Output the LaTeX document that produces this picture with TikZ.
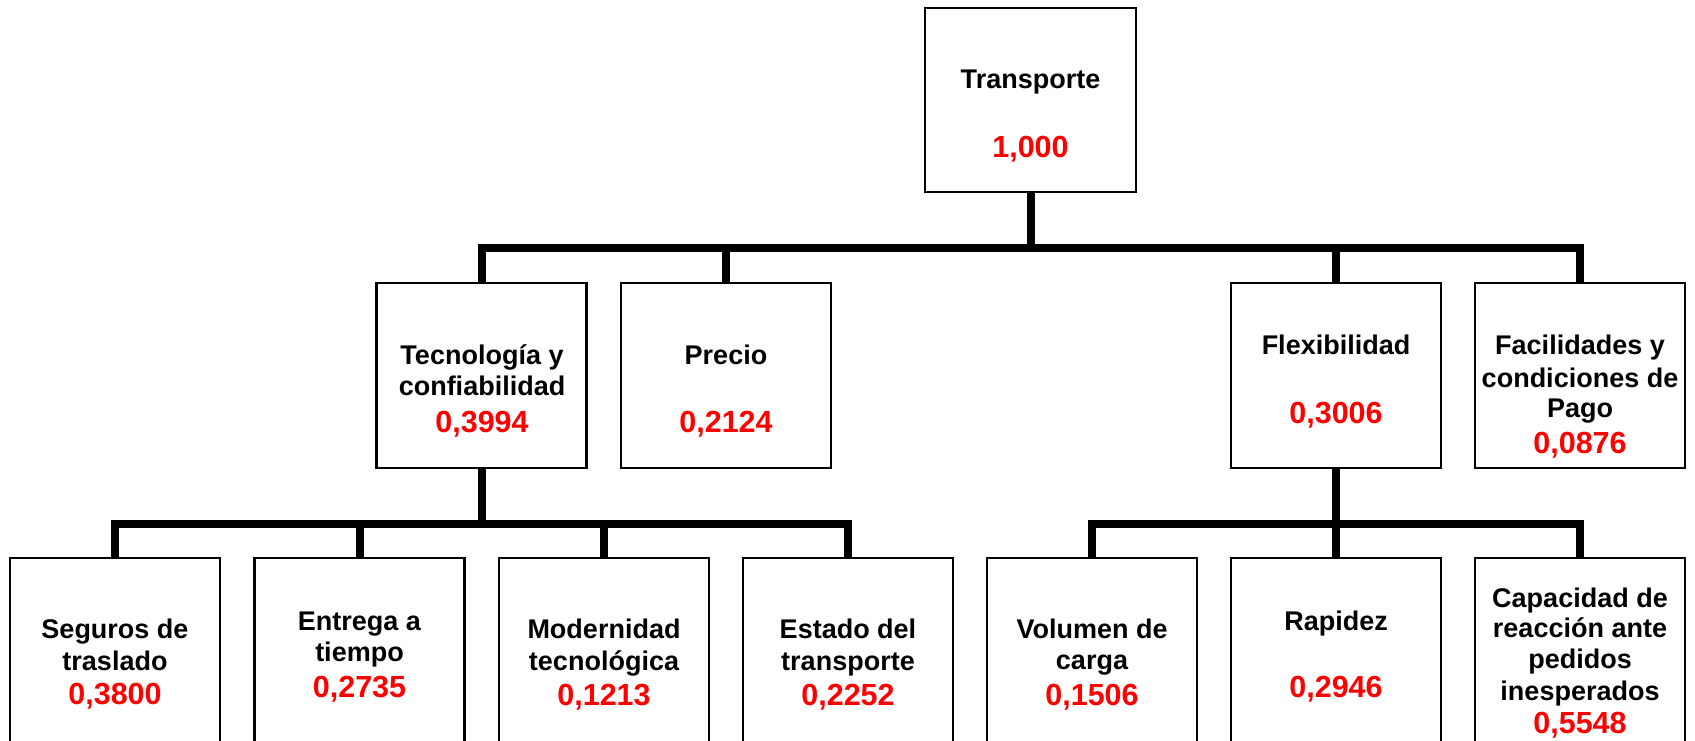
\documentclass[tikz,border=0pt]{standalone}
\usepackage{fontspec}
\setmainfont{Liberation Sans}
\begin{document}
\begin{tikzpicture}[x=1pt,y=-1pt,
  box/.style={draw, line width=2.2pt, fill=white, minimum width=210pt, minimum height=185pt, inner sep=0pt},
  boxlow/.style={box, minimum height=192pt},
  conn/.style={line width=8pt, line join=miter},
  lab/.style={anchor=base, inner sep=0pt, font=\bfseries\fontsize{27}{31}\selectfont},
  val/.style={anchor=base, inner sep=0pt, text=red, font=\bfseries\fontsize{30.5}{34}\selectfont}]
\useasboundingbox (0,0) rectangle (1695,740);
\clip (0,0) rectangle (1695,740);
\coordinate (barT) at (1031,248);
\coordinate (barL) at (482,524);
% connectors
\path
  (1030.5,100) coordinate (ctop)
  (481.5,375.5) coordinate (ctec)
  (726,375.5) coordinate (cpre)
  (1336,375.5) coordinate (cfle)
  (1580,375.5) coordinate (cfac);
% boxes
\node[box, minimum width=211pt, minimum height=184pt] (top) at (ctop) {};
\node[box] (tec) at (ctec) {};
\node[box] (pre) at (cpre) {};
\node[box] (fle) at (cfle) {};
\node[box] (fac) at (cfac) {};
\node[boxlow] (seg) at (115,654) {};
\node[boxlow] (ent) at (359.5,654) {};
\node[boxlow] (mod) at (604,654) {};
\node[boxlow] (est) at (848,654) {};
\node[boxlow] (vol) at (1092,654) {};
\node[boxlow] (rap) at (1336,654) {};
\node[boxlow] (cap) at (1580,654) {};
% connectors
\draw[conn] (top.south) -- (top.south |- barT);
\draw[conn] (tec.north) |- (fac.north |- barT) -- (fac.north);
\draw[conn] (pre.north) -- (pre.north |- barT);
\draw[conn] (fle.north) -- (fle.north |- barT);
\draw[conn] (tec.south) -- (tec.south |- barL);
\draw[conn] (seg.north) |- (est.north |- barL) -- (est.north);
\draw[conn] (ent.north) -- (ent.north |- barL);
\draw[conn] (mod.north) -- (mod.north |- barL);
\draw[conn] (fle.south) -- (fle.south |- barL);
\draw[conn] (vol.north) |- (cap.north |- barL) -- (cap.north);
\draw[conn] (rap.north) -- (rap.north |- barL);
% texts
\node[lab] (t1) at (1030.5,88) {Transporte};
\node[val] (v1) at (1030.5,157) {1,000};
\node[lab] (t2a) at (482,364) {Tecnología y};
\node[lab] (t2b) at (482,395) {confiabilidad};
\node[val] (v2) at (482,432) {0,3994};
\node[lab] (t3) at (726,364) {Precio};
\node[val] (v3) at (726,432) {0,2124};
\node[lab] (t4) at (1336,354) {Flexibilidad};
\node[val] (v4) at (1336,423) {0,3006};
\node[lab] (t5a) at (1580,354) {Facilidades y};
\node[lab] (t5b) at (1580,387) {condiciones de};
\node[lab] (t5c) at (1580,417) {Pago};
\node[val] (v5) at (1580,453) {0,0876};
\node[lab] (t6a) at (115,638) {Seguros de};
\node[lab] (t6b) at (115,670) {traslado};
\node[val] (v6) at (115,704) {0,3800};
\node[lab] (t7a) at (359.5,630) {Entrega a};
\node[lab] (t7b) at (359.5,661) {tiempo};
\node[val] (v7) at (359.5,697) {0,2735};
\node[lab] (t8a) at (604,638) {Modernidad};
\node[lab] (t8b) at (604,670) {tecnológica};
\node[val] (v8) at (604,705) {0,1213};
\node[lab] (t9a) at (848,638) {Estado del};
\node[lab] (t9b) at (848,670) {transporte};
\node[val] (v9) at (848,705) {0,2252};
\node[lab] (t10a) at (1092,638) {Volumen de};
\node[lab] (t10b) at (1092,669) {carga};
\node[val] (v10) at (1092,705) {0,1506};
\node[lab] (t11) at (1336,630) {Rapidez};
\node[val] (v11) at (1336,697) {0,2946};
\node[lab] (t12a) at (1580,607) {Capacidad de};
\node[lab] (t12b) at (1580,637) {reacción ante};
\node[lab] (t12c) at (1580,668) {pedidos};
\node[lab] (t12d) at (1580,700) {inesperados};
\node[val] (v12) at (1580,733) {0,5548};
\end{tikzpicture}
\end{document}
